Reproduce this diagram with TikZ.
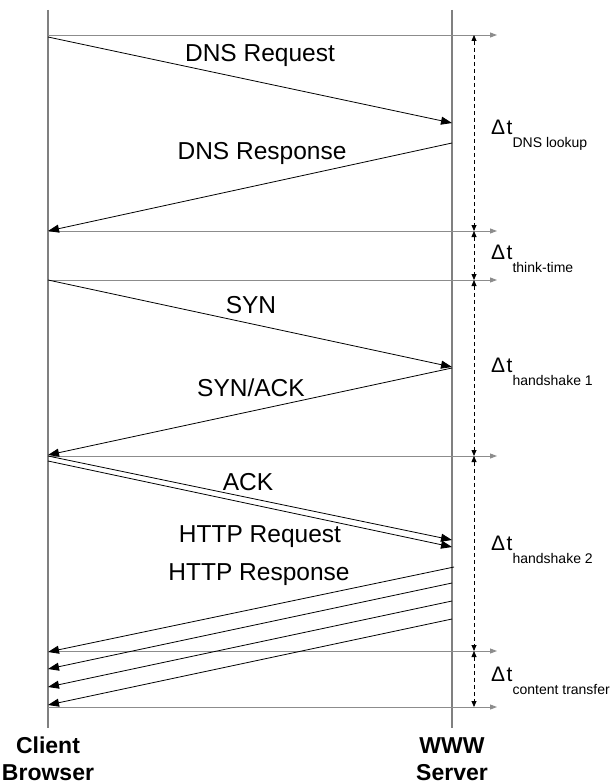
\documentclass[tikz,border=0pt]{standalone}
\usepackage{fontspec}
\setmainfont{Liberation Sans}
\usetikzlibrary{arrows.meta}

\newcommand{\dtlabel}[1]{Δ\hspace{1.5pt}t\raisebox{-13pt}{\fontsize{14}{14}\selectfont #1}}

\begin{document}
\begin{tikzpicture}[x=1pt,y=-1pt,
  life/.style={draw=black!50,line width=1.6pt},
  tline/.style={draw=black!45,line width=0.9pt,-{Triangle[length=7pt,width=5pt]}},
  msg/.style={line width=0.8pt,-{Triangle[length=11pt,width=8pt]}},
  span/.style={dashed,dash pattern=on 4pt off 3pt,line width=0.8pt,{Triangle[length=6pt,width=5pt]}-{Triangle[length=6pt,width=5pt]}},
  lbl/.style={font=\fontsize{24.5}{24.5}\selectfont,inner sep=0pt},
  dt/.style={font=\fontsize{21}{21}\selectfont,inner sep=0pt,anchor=base west},
  who/.style={font=\fontsize{23}{27}\selectfont\bfseries,align=center,inner sep=0pt,anchor=base}
]
\useasboundingbox (0,0) rectangle (614,784);
% lifelines
\coordinate (ctop) at (48,10);
\coordinate (cbot) at (48,728);
\coordinate (stop) at (452,10);
\coordinate (sbot) at (452,728);
\draw[life] (ctop) -- (cbot);
\draw[life] (stop) -- (sbot);
\node[who] (client) at (48,780) {Client\\Browser};
\node[who] (server) at (452,780) {WWW\\Server};
% time marks
\coordinate (m1) at (48,35);  \coordinate (n1) at (497,35);  \coordinate (d1) at (474,35);
\coordinate (m2) at (48,231); \coordinate (n2) at (497,231); \coordinate (d2) at (474,231);
\coordinate (m3) at (48,280); \coordinate (n3) at (497,280); \coordinate (d3) at (474,280);
\coordinate (m4) at (48,456); \coordinate (n4) at (497,456); \coordinate (d4) at (474,456);
\coordinate (m5) at (48,651); \coordinate (n5) at (497,651); \coordinate (d5) at (474,651);
\coordinate (m6) at (48,707); \coordinate (n6) at (497,707); \coordinate (d6) at (474,707);
\draw[tline] (m1) -- (n1);
\draw[tline] (m2) -- (n2);
\draw[tline] (m3) -- (n3);
\draw[tline] (m4) -- (n4);
\draw[tline] (m5) -- (n5);
\draw[tline] (m6) -- (n6);
\draw[span] (d1) -- (d2);
\draw[span] (d2) -- (d3);
\draw[span] (d3) -- (d4);
\draw[span] (d4) -- (d5);
\draw[span] (d5) -- (d6);
\node[dt] (dns) at (491,134) {\dtlabel{DNS lookup}};
\node[dt] (think) at (491,259) {\dtlabel{think-time}};
\node[dt] (hs1) at (491,372) {\dtlabel{handshake 1}};
\node[dt] (hs2) at (491,550) {\dtlabel{handshake 2}};
\node[dt] (ct) at (491,681) {\dtlabel{content transfer}};
% DNS
\coordinate (dnsq0) at (48,37);  \coordinate (dnsq1) at (452,123);
\coordinate (dnsr0) at (452,143); \coordinate (dnsr1) at (48,231);
\draw[msg] (dnsq0) -- (dnsq1);
\draw[msg] (dnsr0) -- (dnsr1);
\node[lbl] (req) at (260,55) {DNS Request};
\node[lbl] (resp) at (262,153) {DNS Response};
% handshake
\coordinate (syn0) at (48,280);  \coordinate (syn1) at (452,367);
\coordinate (sa0) at (452,368);  \coordinate (sa1) at (48,455);
\coordinate (ack0) at (48,456);  \coordinate (ack1) at (452,540);
\coordinate (hq0) at (48,461);   \coordinate (hq1) at (452,547);
\draw[msg] (syn0) -- (syn1);
\draw[msg] (sa0) -- (sa1);
\draw[msg] (ack0) -- (ack1);
\draw[msg] (hq0) -- (hq1);
\node[lbl] (syn) at (251,305) {SYN};
\node[lbl] (synack) at (251,388) {SYN/ACK};
\node[lbl] (ack) at (248,482) {ACK};
\node[lbl] (hreq) at (260,537) {HTTP Request};
% content
\coordinate (r1a) at (454,567); \coordinate (r1b) at (48,652);
\coordinate (r2a) at (452,583); \coordinate (r2b) at (48,669);
\coordinate (r3a) at (452,601); \coordinate (r3b) at (48,687);
\coordinate (r4a) at (452,619); \coordinate (r4b) at (48,705);
\draw[msg] (r1a) -- (r1b);
\draw[msg] (r2a) -- (r2b);
\draw[msg] (r3a) -- (r3b);
\draw[msg] (r4a) -- (r4b);
\node[lbl] (hresp) at (259,575) {HTTP Response};
\end{tikzpicture}
\end{document}
